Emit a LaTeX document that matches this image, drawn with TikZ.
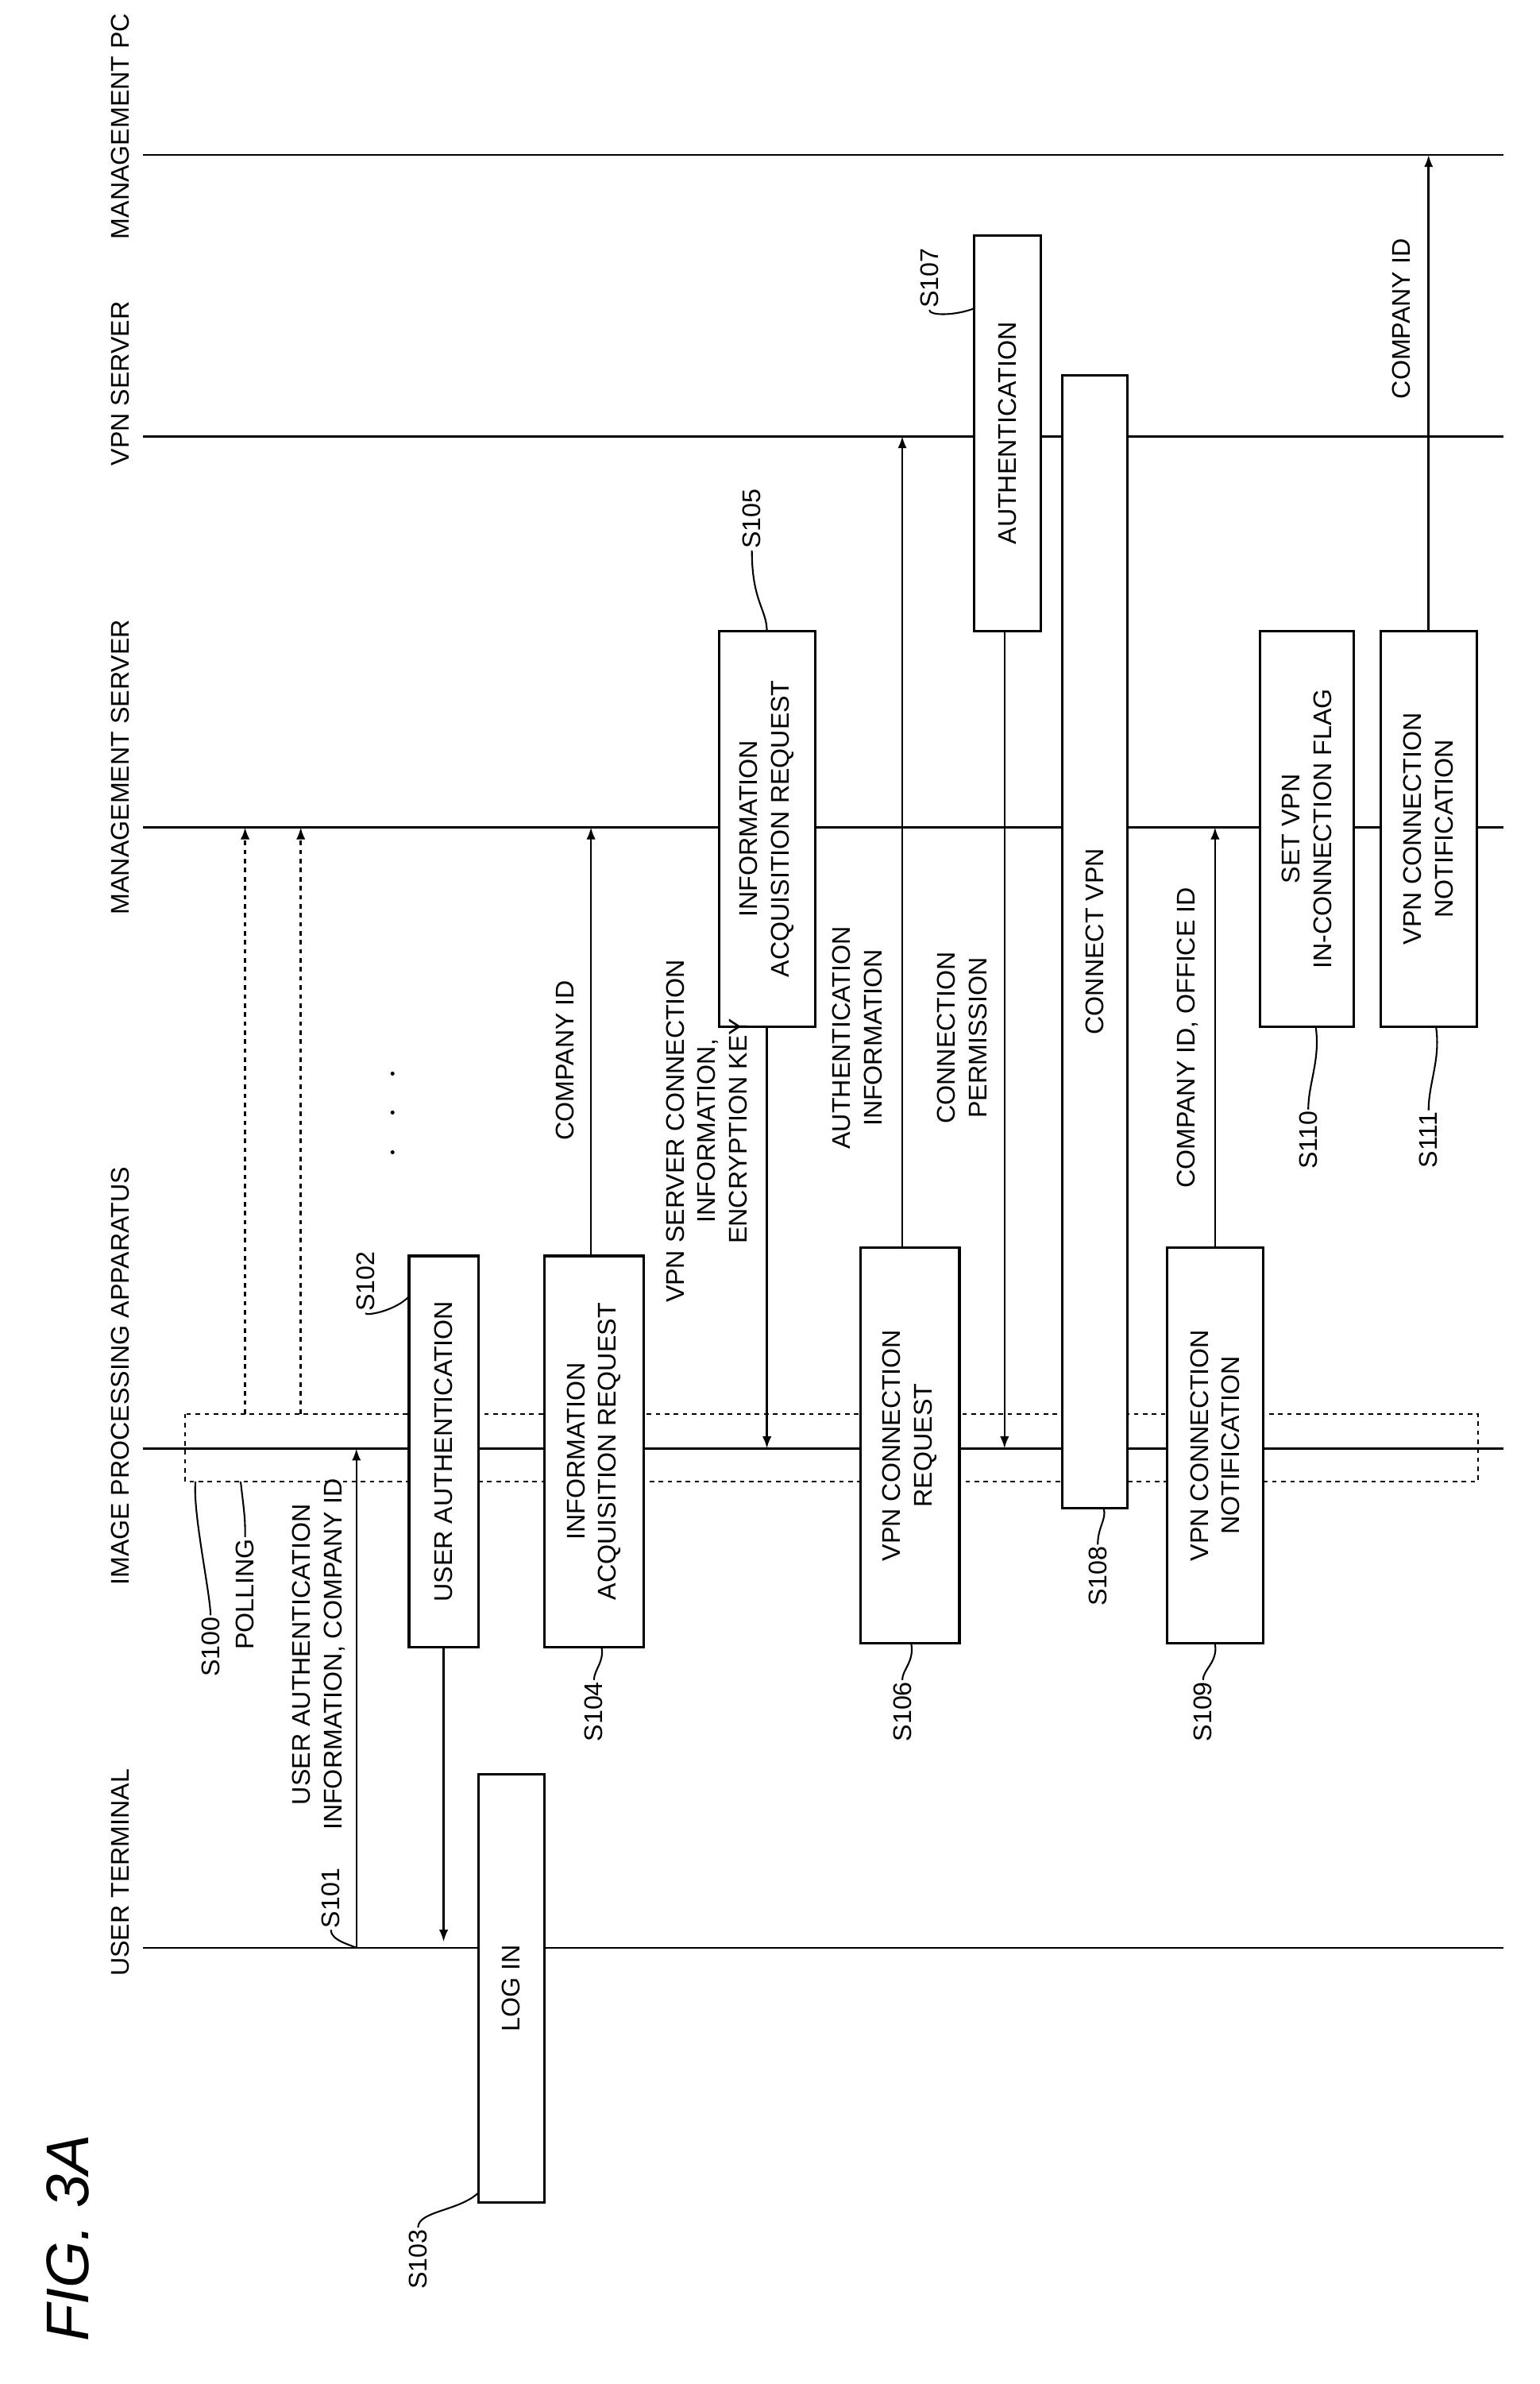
\documentclass[tikz,border=0pt]{standalone}
\usepackage{fontspec}
\setmainfont{Liberation Sans}
\usetikzlibrary{arrows.meta}
\begin{document}
\begin{tikzpicture}[x=1pt,y=-1pt,
  life/.style={line width=1.5pt},
  box/.style={draw,line width=1.6pt,rotate=90,align=center,inner sep=0pt,font=\fontsize{17}{21}\selectfont},
  lbl/.style={rotate=90,align=center,font=\fontsize{17}{21}\selectfont,inner sep=1pt},
  arr/.style={line width=1.3pt,-{Latex[length=8pt,width=6pt]}},
  darr/.style={line width=1.3pt,dashed,-{Latex[length=8pt,width=6pt]}},
  lead/.style={line width=1.1pt}]
\useasboundingbox (0,0) rectangle (1024,1585);
% lifelines
\foreach \n/\y in {pc/103,vpn/290,ms/550,ipa/963,ut/1295}
  \draw[life] (95,\y) coordinate (\n l) -- (1000,\y) coordinate (\n r);
\node[lbl] (hpc) at (80,84) {MANAGEMENT PC};
\node[lbl] (hvpn) at (80,255) {VPN SERVER};
\node[lbl] (hms) at (80,510) {MANAGEMENT SERVER};
\node[lbl] (hipa) at (80,915) {IMAGE PROCESSING APPARATUS};
\node[lbl] (hut) at (80,1245) {USER TERMINAL};
\node[rotate=90,font=\fontsize{40}{44}\selectfont\itshape] (fig) at (45,1488) {FIG. 3A};
% polling box
\draw[dashed,line width=1.3pt] (123,940) rectangle (983,985);
% boxes
\node[box,minimum width=285pt,minimum height=44pt,fill=white] (b103) at (340,1322) {LOG IN};
\node[box,minimum width=260pt,minimum height=46pt,fill=white] (b102) at (295,965) {USER AUTHENTICATION};
\node[box,minimum width=260pt,minimum height=66pt,fill=white] (b104) at (395,965) {INFORMATION\\ACQUISITION REQUEST};
\node[box,minimum width=263pt,minimum height=64pt,fill=white] (b105) at (510,551) {INFORMATION\\ACQUISITION REQUEST};
\node[box,minimum width=263pt,minimum height=66pt,fill=white] (b106) at (605,961) {VPN CONNECTION\\REQUEST};
\node[box,minimum width=263pt,minimum height=44pt,fill=white] (b107) at (670,288) {AUTHENTICATION};
\node[box,minimum width=753pt,minimum height=43pt,fill=white] (b108) at (728,626) {CONNECT VPN};
\node[box,minimum width=263pt,minimum height=64pt,fill=white] (b109) at (808,961) {VPN CONNECTION\\NOTIFICATION};
\node[box,minimum width=263pt,minimum height=62pt,fill=white] (b110) at (869,551) {SET VPN\\IN-CONNECTION FLAG};
\node[box,minimum width=263pt,minimum height=64pt,fill=white] (b111) at (950,551) {VPN CONNECTION\\NOTIFICATION};
% arrows
\draw[arr] (237,1295) -- (237,963);
\draw[arr] (295,1095) -- (295,1291);
\draw[darr] (163,940) -- (163,550);
\draw[darr] (200,940) -- (200,550);
\draw[arr] (393,835) -- (393,550);
\draw[arr] (510,683) -- (510,963);
\draw[arr] (600,830) -- (600,290);
\draw[arr] (668,420) -- (668,963);
\draw[arr] (808,830) -- (808,550);
\draw[arr] (950,420) -- (950,103);
% message labels
\node[lbl] (m101) at (212,1100) {USER AUTHENTICATION\\INFORMATION, COMPANY ID};
\node[lbl] (m104) at (376,705) {COMPANY ID};
\node[lbl] (m105) at (470,752) {VPN SERVER CONNECTION\\INFORMATION,\\ENCRYPTION KEY};
\node[lbl] (m106) at (570,690) {AUTHENTICATION\\INFORMATION};
\node[lbl] (m107) at (640,690) {CONNECTION\\PERMISSION};
\node[lbl] (m109) at (790,690) {COMPANY ID, OFFICE ID};
\node[lbl] (m111) at (932,212) {COMPANY ID};
\node[lbl,font=\fontsize{24}{24}\selectfont] (dots) at (262,740) {$\cdot\;\;\cdot\;\;\cdot$};
% step labels
\node[lbl] (s100) at (140,1095) {S100};
\node[lbl] (pol) at (163,1060) {POLLING};
\draw[lead] (s100.east) .. controls (140,1060) and (128,1005) .. (130,985);
\draw[lead] (pol.east) .. controls (163,1010) .. (160,985);
\node[lbl] (s101) at (220,1262) {S101};
\draw[lead] (s101.west) .. controls (220,1290) and (233,1293) .. (237,1295);
\node[lbl] (s102) at (243,852) {S102};
\draw[lead] (s102.west) .. controls (243,875) and (262,872) .. (272,862);
\node[lbl] (s103) at (278,1502) {S103};
\draw[lead] (s103.east) .. controls (278,1470) and (305,1470) .. (318,1458);
\node[lbl] (s104) at (395,1138) {S104};
\draw[lead] (s104.east) .. controls (395,1110) and (402,1105) .. (400,1095);
\node[lbl] (s105) at (500,345) {S105};
\draw[lead] (s105.west) .. controls (500,400) and (510,405) .. (510,420);
\node[lbl] (s106) at (600,1138) {S106};
\draw[lead] (s106.east) .. controls (600,1110) and (608,1105) .. (606,1093);
\node[lbl] (s107) at (618,185) {S107};
\draw[lead] (s107.west) .. controls (618,210) and (635,210) .. (648,205);
\node[lbl] (s108) at (730,1048) {S108};
\draw[lead] (s108.east) .. controls (730,1015) and (736,1010) .. (734,1003);
\node[lbl] (s109) at (800,1138) {S109};
\draw[lead] (s109.east) .. controls (800,1110) and (810,1105) .. (808,1093);
\node[lbl] (s110) at (870,758) {S110};
\draw[lead] (s110.east) .. controls (870,720) and (878,705) .. (875,683);
\node[lbl] (s111) at (950,758) {S111};
\draw[lead] (s111.east) .. controls (950,720) and (958,705) .. (955,683);
\end{tikzpicture}
\end{document}
